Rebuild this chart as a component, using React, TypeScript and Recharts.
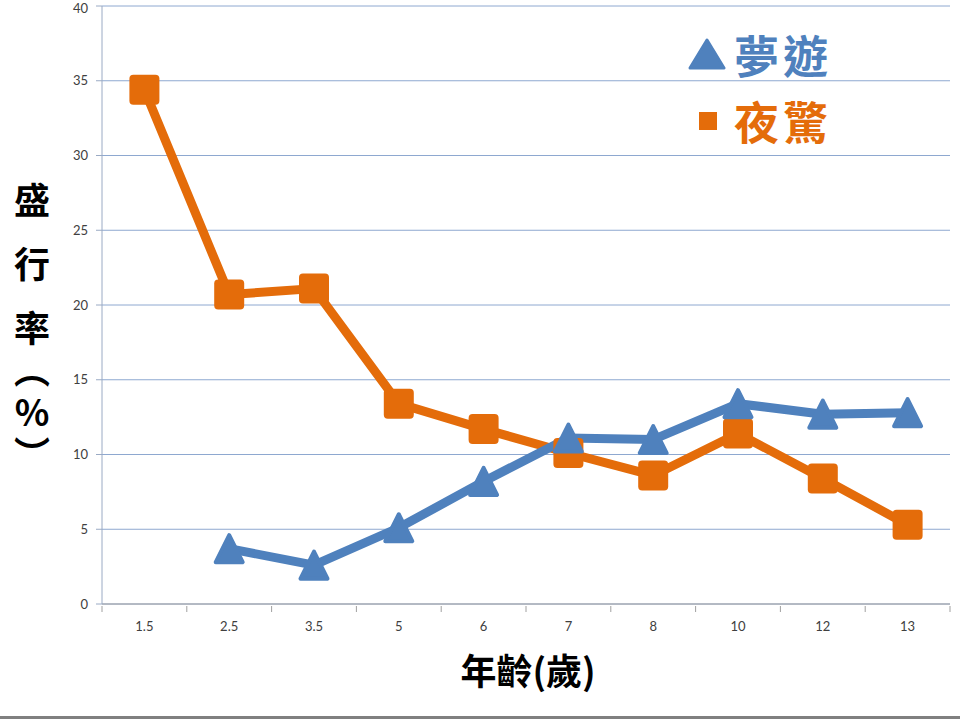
import React from "react";
import { LineChart, Line, XAxis, YAxis, CartesianGrid } from "recharts";

const ages = ["1.5", "2.5", "3.5", "5", "6", "7", "8", "10", "12", "13"];
const sleepwalking: (number | null)[] = [null, 3.7, 2.6, 5.1, 8.2, 11.1, 11.0, 13.4, 12.7, 12.8];
const nightTerrors: number[] = [34.4, 20.7, 21.1, 13.4, 11.7, 10.1, 8.6, 11.4, 8.4, 5.3];
const yTicks = [0, 5, 10, 15, 20, 25, 30, 35, 40];

const data = ages.map((age, i) => ({
    age,
    sleepwalking: sleepwalking[i],
    nightTerrors: nightTerrors[i],
}));

const BLUE = "#4F81BD";
const ORANGE = "#E46C0A";
const CJK = "'Noto Sans CJK TC', 'Noto Sans CJK SC', sans-serif";

const W = 960;
const H = 720;
const margin = { top: 6, right: 10, left: 0, bottom: 86 };
const yAxisWidth = 102;
const halfBand = (W - margin.left - margin.right - yAxisWidth) / ages.length / 2;

const TriangleDot = (props: any) => {
    const { cx, cy, value } = props;
    if (value === null || value === undefined || cx == null || cy == null) return null;
    const w = 13.5;
    const h = 13.5;
    return (
        <path
            d={`M${cx},${cy - h} L${cx + w},${cy + h} L${cx - w},${cy + h} Z`}
            fill={BLUE}
            stroke={BLUE}
            strokeWidth={4}
            strokeLinejoin="round"
        />
    );
};

const SquareDot = (props: any) => {
    const { cx, cy } = props;
    if (cx == null || cy == null) return null;
    return <rect x={cx - 15} y={cy - 15} width={30} height={30} rx={4} ry={4} fill={ORANGE} />;
};

const XTick = (props: any) => {
    const { x, y, payload, index } = props;
    return (
        <g>
            <line x1={x - halfBand} y1={y - 6} x2={x - halfBand} y2={y} stroke="#A0A0A0" />
            {index === ages.length - 1 && (
                <line x1={x + halfBand} y1={y - 6} x2={x + halfBand} y2={y} stroke="#A0A0A0" />
            )}
            <text
                x={x}
                y={y}
                dy={19}
                textAnchor="middle"
                fontSize={13}
                fontFamily="Lato, 'Open Sans', sans-serif"
                fill="#404040"
            >
                {payload.value}
            </text>
        </g>
    );
};

export default function App() {
    return (
        <div style={{ position: "absolute", left: 0, top: 0, width: W, height: H, background: "#fff", overflow: "hidden" }}>
            <LineChart width={W} height={H} data={data} margin={margin}>
                <CartesianGrid horizontal vertical={false} stroke="#8EA8D0" strokeWidth={1} />
                <XAxis
                    dataKey="age"
                    height={30}
                    padding={{ left: halfBand, right: halfBand }}
                    stroke="#A0A0A0"
                    tickLine={false}
                    tick={<XTick />}
                    interval={0}
                />
                <YAxis
                    width={yAxisWidth}
                    domain={[0, 40]}
                    ticks={yTicks}
                    stroke="#9AAAC4"
                    tickSize={6}
                    tickMargin={8}
                    tick={{ fontSize: 13, fill: "#404040", fontFamily: "Lato, 'Open Sans', sans-serif" }}
                />
                <Line
                    dataKey="nightTerrors"
                    stroke={ORANGE}
                    strokeWidth={9}
                    dot={<SquareDot />}
                    activeDot={false}
                    isAnimationActive={false}
                />
                <Line
                    dataKey="sleepwalking"
                    stroke={BLUE}
                    strokeWidth={9}
                    dot={<TriangleDot />}
                    activeDot={false}
                    isAnimationActive={false}
                />
            </LineChart>

            {/* legend */}
            <div
                style={{
                    position: "absolute",
                    left: 688,
                    top: 22,
                    fontFamily: CJK,
                    fontWeight: 700,
                    fontSize: 45,
                    letterSpacing: 4,
                    lineHeight: "66px",
                }}
            >
                <div style={{ display: "flex", alignItems: "center", color: BLUE, height: 66 }}>
                    <svg width={44} height={34} style={{ marginRight: 2 }}>
                        <path d="M19,2 L36,30 L2,30 Z" fill={BLUE} stroke={BLUE} strokeWidth={3} strokeLinejoin="round" />
                    </svg>
                    <span>夢遊</span>
                </div>
                <div style={{ display: "flex", alignItems: "center", color: ORANGE, height: 66 }}>
                    <svg width={44} height={20} style={{ marginRight: 2 }}>
                        <rect x={11} y={1} width={18} height={18} fill={ORANGE} />
                    </svg>
                    <span>夜驚</span>
                </div>
            </div>

            {/* y axis title, vertical */}
            <div
                style={{
                    position: "absolute",
                    left: 12,
                    top: 182,
                    width: 40,
                    lineHeight: "40px",
                    writingMode: "vertical-rl",
                    textOrientation: "upright",
                    fontFamily: CJK,
                    fontWeight: 700,
                    fontSize: 36,
                    color: "#000",
                }}
            >
                <span style={{ letterSpacing: 28 }}>盛行</span>
                <span style={{ letterSpacing: 6 }}>率（%）</span>
            </div>

            <div
                style={{
                    position: "absolute",
                    left: 378,
                    width: 300,
                    top: 646,
                    height: 46,
                    lineHeight: "46px",
                    textAlign: "center",
                    fontFamily: CJK,
                    fontWeight: 700,
                    fontSize: 36,
                    color: "#000",
                }}
            >
                年齡(歲)
            </div>
            <div style={{ position: "absolute", left: 0, top: 716, width: W, height: 3, background: "#808080" }} />
        </div>
    );
}
